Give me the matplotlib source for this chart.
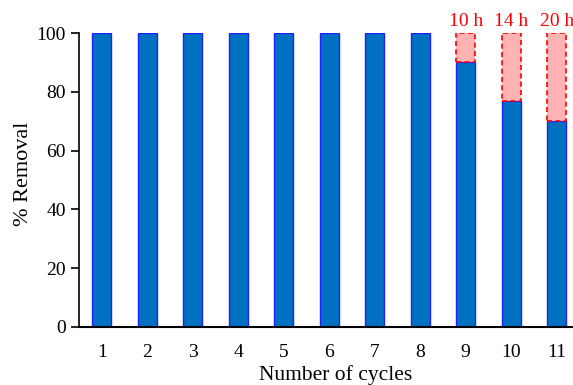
import matplotlib.pyplot as plt
import numpy as np

plt.rcParams["font.family"] = ["Liberation Serif", "DejaVu Serif"]

cycles = np.arange(1, 12)
removal = [100, 100, 100, 100, 100, 100, 100, 100, 90, 77, 70]
extra_labels = {9: "10 h", 10: "14 h", 11: "20 h"}

fig = plt.figure(figsize=(5.73, 3.85), dpi=100)
ax = fig.add_axes([0.138, 0.151, 0.862, 0.763])

width = 0.42
ax.bar(cycles, removal, width=width, color="#0070C0", edgecolor="#2020FF", linewidth=1.0, zorder=2)

# remaining part up to 100 % for the extended cycles
for c, label in extra_labels.items():
    v = removal[c - 1]
    ax.bar(c, 100 - v, bottom=v, width=width, color="#FFB3B3", edgecolor="#FF0000",
           linewidth=1.2, linestyle=(0, (3, 2)), zorder=2)
    ax.text(c, 101.2, label, ha="center", va="bottom", color="#FF0000", fontsize=14)

ax.set_xlim(0.5, 11.36)
ax.set_ylim(0, 100)
ax.set_yticks(range(0, 101, 20))
ax.set_xticks(cycles)
ax.tick_params(axis="y", direction="out", length=6, width=1.2, labelsize=14)
ax.tick_params(axis="x", length=0, labelsize=14, pad=12)
for side in ("top", "right"):
    ax.spines[side].set_visible(False)
ax.spines["left"].set_linewidth(1.2)
ax.spines["bottom"].set_linewidth(1.5)
ax.set_xlabel("Number of cycles", fontsize=15.5, labelpad=2)
ax.xaxis.set_label_coords(0.52, -0.13)
ax.set_ylabel("% Removal", fontsize=16, labelpad=4)
ax.yaxis.set_label_coords(-0.093, 0.52)

fig.savefig("out.png", dpi=100)
